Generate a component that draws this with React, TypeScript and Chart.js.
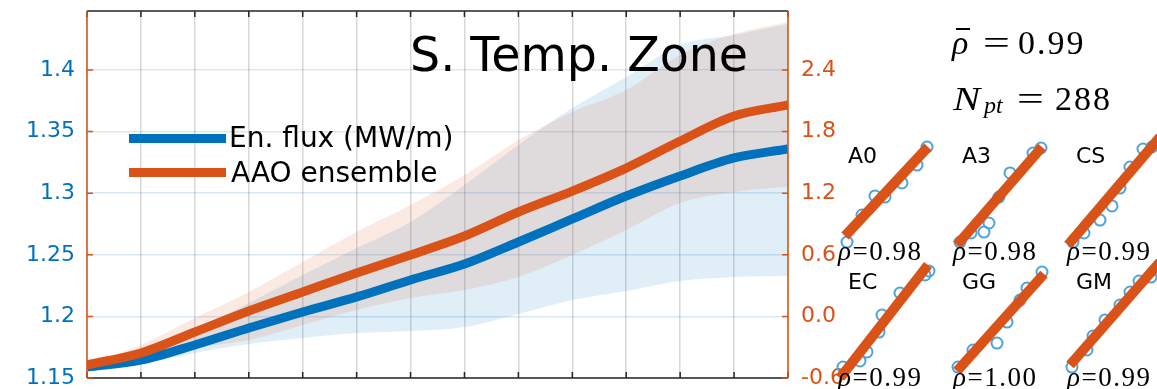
import React, { useEffect, useRef } from "react";
import { Chart, registerables } from "chart.js";

Chart.register(...registerables);

// Along-zone sample index
const stations = [0, 1, 2, 3, 4, 5, 6, 7, 8, 9, 10, 11, 12, 13];

// Energy flux (MW/m), left axis
const fluxMean = [1.1589, 1.1646, 1.1768, 1.1906, 1.2036, 1.2158, 1.2296, 1.2425, 1.2604, 1.2791, 1.2977, 1.314, 1.3286, 1.3359];
const fluxLow = [1.1573, 1.1614, 1.1703, 1.1776, 1.1825, 1.1865, 1.1882, 1.1914, 1.202, 1.2133, 1.2206, 1.2287, 1.232, 1.2328];
const fluxHigh = [1.1597, 1.1711, 1.189, 1.2109, 1.2336, 1.2556, 1.2767, 1.3067, 1.3392, 1.3692, 1.3944, 1.4204, 1.4285, 1.4374];

// AAO ensemble, right axis
const aaoMean = [-0.473, -0.356, -0.152, 0.053, 0.238, 0.423, 0.598, 0.783, 1.017, 1.221, 1.445, 1.708, 1.952, 2.059];
const aaoLow = [-0.493, -0.405, -0.308, -0.23, -0.084, 0.062, 0.179, 0.257, 0.384, 0.598, 0.842, 1.105, 1.212, 1.26];
const aaoHigh = [-0.464, -0.279, -0.016, 0.238, 0.53, 0.822, 1.085, 1.377, 1.718, 1.991, 2.205, 2.546, 2.751, 2.867];

const fluxTicks = [1.15, 1.2, 1.25, 1.3, 1.35, 1.4];
const fluxTickLabels = ["1.15", "1.2", "1.25", "1.3", "1.35", "1.4"];
const aaoTicks = [-0.6, 0, 0.6, 1.2, 1.8, 2.4];
const aaoTickLabels = ["-0.6", "0.0", "0.6", "1.2", "1.8", "2.4"];

// Per-model comparison panels (normalised flux vs normalised AAO)
const panelNames = ["A0", "A3", "CS", "EC", "GG", "GM"];
const panelRho = ["0.98", "0.98", "0.99", "0.99", "1.00", "0.99"];
const panelFlux = [
  [0.11, 0.26, 0.39, 0.49, 0.66, 0.81, 0.91],
  [0.11, 0.22, 0.35, 0.4, 0.5, 0.61, 0.84, 0.92],
  [0.11, 0.22, 0.38, 0.5, 0.58, 0.68, 0.81, 0.9],
  [0.07, 0.24, 0.31, 0.43, 0.46, 0.64, 0.89, 0.93],
  [0.09, 0.24, 0.48, 0.58, 0.71, 0.78, 0.93],
  [0.1, 0.25, 0.31, 0.43, 0.58, 0.68, 0.77, 0.89],
];
const panelAao = [
  [0.036, 0.282, 0.455, 0.445, 0.573, 0.736, 0.9],
  [0.036, 0.118, 0.127, 0.209, 0.445, 0.664, 0.845, 0.891],
  [0.036, 0.118, 0.236, 0.364, 0.527, 0.718, 0.882, 0.9],
  [0.027, 0.082, 0.164, 0.345, 0.5, 0.7, 0.864, 0.9],
  [0.027, 0.182, 0.245, 0.436, 0.636, 0.745, 0.891],
  [0.027, 0.182, 0.309, 0.455, 0.591, 0.709, 0.809, 0.845],
];
// Fitted line end points [x0, y0, x1, y1]
const panelFit = [
  [0.09, 0.091, 0.92, 0.9],
  [0.08, 0.009, 0.93, 0.9],
  [0.06, 0.009, 0.98, 0.991],
  [0.04, -0.073, 0.92, 0.955],
  [0.08, -0.009, 0.95, 0.873],
  [0.08, 0.045, 0.98, 0.982],
];

const BLUE = "#0072BD";
const ORANGE = "#D95319";
const SANS = '"DejaVu Sans", sans-serif';
const SERIF = '"Liberation Serif", serif';

const series = (ys: number[]) => stations.map((x, i) => ({ x, y: ys[i] }));

const framePlugin = {
  id: "frame",
  afterDatasetsDraw(chart: any) {
    const { ctx, chartArea: a, scales } = chart;
    ctx.save();
    ctx.lineWidth = 1.5;
    ctx.strokeStyle = "#262626";
    ctx.beginPath();
    ctx.moveTo(a.left, a.top);
    ctx.lineTo(a.right, a.top);
    ctx.moveTo(a.left, a.bottom);
    ctx.lineTo(a.right, a.bottom);
    scales.x.ticks.forEach((t: any) => {
      const px = scales.x.getPixelForValue(t.value);
      ctx.moveTo(px, a.top);
      ctx.lineTo(px, a.top + 6);
      ctx.moveTo(px, a.bottom);
      ctx.lineTo(px, a.bottom - 6);
    });
    ctx.stroke();
    ctx.strokeStyle = ORANGE;
    ctx.beginPath();
    ctx.moveTo(a.left, a.top);
    ctx.lineTo(a.left, a.bottom);
    ctx.moveTo(a.right, a.top);
    ctx.lineTo(a.right, a.bottom);
    fluxTicks.forEach((v) => {
      const py = scales.yL.getPixelForValue(v);
      ctx.moveTo(a.left, py);
      ctx.lineTo(a.left + 6, py);
    });
    aaoTicks.forEach((v) => {
      const py = scales.yR.getPixelForValue(v);
      ctx.moveTo(a.right, py);
      ctx.lineTo(a.right - 6, py);
    });
    ctx.stroke();
    ctx.restore();
  },
};

const band = (ys: number[], axis: string, color: string, fill: any, order: number) => ({
  data: series(ys),
  yAxisID: axis,
  borderColor: "rgba(0,0,0,0)",
  borderWidth: 0,
  backgroundColor: color,
  pointRadius: 0,
  fill,
  order,
  cubicInterpolationMode: "monotone",
});

function MainChart() {
  const ref = useRef<HTMLCanvasElement | null>(null);
  useEffect(() => {
    const chart = new Chart(ref.current as HTMLCanvasElement, {
      type: "line",
      data: {
        datasets: [
          {
            label: "AAO ensemble",
            data: series(aaoMean),
            yAxisID: "yR",
            borderColor: ORANGE,
            borderWidth: 9,
            pointRadius: 0,
            fill: false,
            order: 0,
            cubicInterpolationMode: "monotone",
          },
          {
            label: "En. flux (MW/m)",
            data: series(fluxMean),
            yAxisID: "yL",
            borderColor: BLUE,
            borderWidth: 9,
            pointRadius: 0,
            fill: false,
            order: 1,
            cubicInterpolationMode: "monotone",
          },
          band(fluxHigh, "yL", "rgba(0,114,189,0.12)", "+1", 3),
          band(fluxLow, "yL", "rgba(0,0,0,0)", false, 3),
          band(aaoHigh, "yR", "rgba(217,83,25,0.12)", "+1", 2),
          band(aaoLow, "yR", "rgba(0,0,0,0)", false, 2),
        ] as any,
      },
      options: {
        responsive: false,
        animation: false,
        devicePixelRatio: 1,
        events: [],
        layout: { padding: { top: 11, left: 0, right: 0, bottom: 0 } },
        plugins: { legend: { display: false }, tooltip: { enabled: false } },
        scales: {
          x: {
            type: "linear",
            min: 0,
            max: 13,
            ticks: { display: false, stepSize: 1 },
            grid: { color: "rgba(38,38,38,0.18)", drawTicks: false, lineWidth: 1.5 },
            border: { display: false },
            afterFit(s: any) {
              s.height = 11;
              s.paddingLeft = 0;
              s.paddingRight = 0;
            },
          },
          yL: {
            type: "linear",
            position: "left",
            min: 1.15,
            max: 1.4479,
            afterBuildTicks(s: any) {
              s.ticks = fluxTicks.map((v) => ({ value: v }));
            },
            ticks: {
              color: BLUE,
              font: { family: SANS, size: 22 },
              padding: 12,
              callback: (_v: any, i: number) => fluxTickLabels[i],
            },
            grid: { color: "rgba(0,114,189,0.16)", drawTicks: false, lineWidth: 1.5 },
            border: { display: false },
            afterFit(s: any) {
              s.width = 87;
              s.paddingTop = 0;
              s.paddingBottom = 0;
            },
          },
          yR: {
            type: "linear",
            position: "right",
            min: -0.6,
            max: 2.975,
            afterBuildTicks(s: any) {
              s.ticks = aaoTicks.map((v) => ({ value: v }));
            },
            ticks: {
              color: ORANGE,
              font: { family: SANS, size: 22 },
              padding: 13,
              callback: (_v: any, i: number) => aaoTickLabels[i],
            },
            grid: { display: false, drawTicks: false },
            border: { display: false },
            afterFit(s: any) {
              s.width = 1157 - 788;
              s.paddingTop = 0;
              s.paddingBottom = 0;
            },
          },
        } as any,
      },
      plugins: [framePlugin],
    });
    return () => chart.destroy();
  }, []);
  return <canvas ref={ref} width={1157} height={389} style={{ position: "absolute", left: 0, top: 0 }} />;
}

function Panel({ idx, left, top }: { idx: number; left: number; top: number }) {
  const ref = useRef<HTMLCanvasElement | null>(null);
  useEffect(() => {
    const f = panelFit[idx];
    const chart = new Chart(ref.current as HTMLCanvasElement, {
      type: "scatter",
      data: {
        datasets: [
          {
            type: "line",
            data: [
              { x: f[0], y: f[1] },
              { x: f[2], y: f[3] },
            ],
            borderColor: ORANGE,
            borderWidth: 10,
            borderCapStyle: "butt",
            pointRadius: 0,
            fill: false,
            order: 0,
            clip: false,
          },
          {
            data: panelFlux[idx].map((x, i) => ({ x, y: panelAao[idx][i] })),
            pointStyle: "circle",
            pointRadius: 5.5,
            borderColor: "#4FA3DC",
            borderWidth: 2,
            backgroundColor: "rgba(0,0,0,0)",
            order: 1,
            clip: false,
          },
        ] as any,
      },
      options: {
        responsive: false,
        animation: false,
        devicePixelRatio: 1,
        events: [],
        layout: { padding: 10 },
        plugins: { legend: { display: false }, tooltip: { enabled: false } },
        scales: {
          x: { type: "linear", min: 0, max: 1, display: false },
          y: { type: "linear", min: 0, max: 1, display: false },
        },
      },
    });
    return () => chart.destroy();
  }, [idx]);
  return <canvas ref={ref} width={120} height={130} style={{ position: "absolute", left: left - 10, top: top - 10 }} />;
}

const abs = (left: number, top: number, font: string, extra: any = {}) => ({
  position: "absolute" as const,
  left,
  top,
  font,
  lineHeight: 1,
  whiteSpace: "nowrap" as const,
  color: "#000",
  ...extra,
});

export default function App() {
  const colLeft = [836, 949, 1062];
  const rowTop = [136, 260];
  const labelLeft = [848, 962, 1076];
  const rhoLeft = [838, 953, 1067];
  const labelTop = [144.5, 271];
  const rhoTop = [237.5, 364];
  return (
    <div
      style={{
        position: "absolute",
        left: 0,
        top: 0,
        width: 1157,
        height: 389,
        overflow: "hidden",
        background: "#fff",
      }}
    >
      <MainChart />
      <div style={abs(410, 30.5, `47.5px ${SANS}`)}>S. Temp. Zone</div>
      <div style={{ position: "absolute", left: 129, top: 134, width: 97, height: 9, background: BLUE }} />
      <div style={{ position: "absolute", left: 129, top: 168, width: 97, height: 9, background: ORANGE }} />
      <div style={abs(229, 124, `28px ${SANS}`)}>En. flux (MW/m)</div>
      <div style={abs(231, 158.5, `28px ${SANS}`)}>AAO ensemble</div>

      <div style={abs(952, 25.5, `italic 34px ${SERIF}`)}>ρ</div>
      <div style={{ position: "absolute", left: 956, top: 28, width: 14, height: 2, background: "#000" }} />
      <div style={abs(983, 25.5, `34px ${SERIF}`, { transform: "scaleX(1.4)", transformOrigin: "left" })}>=</div>
      <div style={abs(1018, 25.5, `34px ${SERIF}`, { letterSpacing: 2 })}>0.99</div>
      <div style={abs(953, 82, `italic 34px ${SERIF}`, { transform: "scaleX(1.2)", transformOrigin: "left" })}>N</div>
      <div style={abs(984, 93, `italic 24px ${SERIF}`)}>pt</div>
      <div style={abs(1017, 82, `34px ${SERIF}`, { transform: "scaleX(1.4)", transformOrigin: "left" })}>=</div>
      <div style={abs(1055, 82, `34px ${SERIF}`, { letterSpacing: 2 })}>288</div>

      {panelNames.map((name, i) => {
        const c = i % 3;
        const r = Math.floor(i / 3);
        return <Panel key={"p" + name} idx={i} left={colLeft[c]} top={rowTop[r]} />;
      })}
      {panelNames.map((name, i) => {
        const c = i % 3;
        const r = Math.floor(i / 3);
        return (
          <React.Fragment key={"t" + name}>
            <div style={abs(labelLeft[c], labelTop[r], `22px ${SANS}`)}>{name}</div>
            <div style={abs(rhoLeft[c], rhoTop[r], `27px ${SERIF}`, { letterSpacing: 1.5 })}>
              <i>ρ</i>={panelRho[i]}
            </div>
          </React.Fragment>
        );
      })}
    </div>
  );
}
